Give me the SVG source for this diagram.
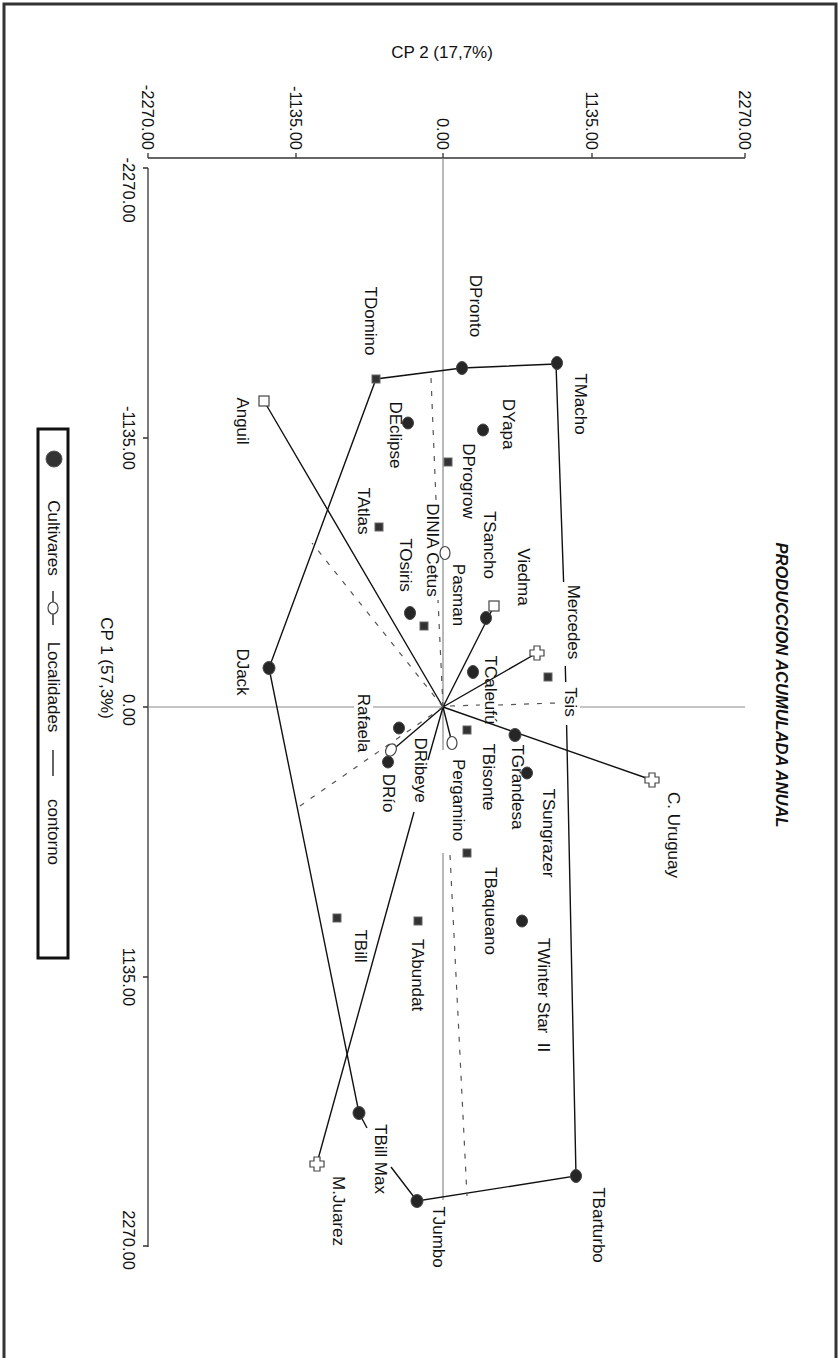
<svg xmlns="http://www.w3.org/2000/svg" width="840" height="1358" viewBox="0 0 840 1358">
<style>
text{font-family:"Liberation Sans",Arial,sans-serif;fill:#111;}
.lbl{font-size:17px;text-anchor:middle;dominant-baseline:central;}
.tick{font-size:16.5px;dominant-baseline:central;}
.title{font-size:16.5px;font-weight:bold;font-style:italic;text-anchor:middle;dominant-baseline:central;}
.ax{stroke:#333;stroke-width:1.3;fill:none;}
.zero{stroke:#8a8a8a;stroke-width:1.2;fill:none;}
.hull{stroke:#111;stroke-width:1.4;fill:none;}
.vec{stroke:#111;stroke-width:1.4;fill:none;}
.dash{stroke:#555;stroke-width:1.2;fill:none;stroke-dasharray:5,8;}
.cv{fill:#262626;stroke:#444;stroke-width:1;}
.sq{fill:#333;stroke:#666;stroke-width:1;}
.loc{fill:#fff;stroke:#444;stroke-width:1.2;}
</style>
<defs>
<path id="cross" d="M-3,-7 H3 V-3 H7 V3 H3 V7 H-3 V3 H-7 V-3 H-3 Z"/>
</defs>

<g id="frame">
<path d="M4,1358 V4 H836 V1358" fill="none" stroke="#333" stroke-width="3"/>
</g>

<g id="title">
<text class="title" transform="translate(782,685) rotate(90)">PRODUCCION ACUMULADA ANUAL</text>
</g>

<g id="axis-top">
<line class="ax" x1="148" y1="158" x2="745" y2="158"/>
<path class="ax" d="M148,158 V153 M296,158 V153 M443,158 V153 M592,158 V153 M745,158 V153"/>
<g class="tick" text-anchor="end">
<text transform="translate(148,150) rotate(90)">-2270.00</text>
<text transform="translate(296,150) rotate(90)">-1135.00</text>
<text transform="translate(443,150) rotate(90)">0.00</text>
<text transform="translate(592,150) rotate(90)">1135.00</text>
<text transform="translate(745,150) rotate(90)">2270.00</text>
</g>
<text class="lbl" x="442" y="52">CP 2 (17,7%)</text>
</g>

<g id="axis-left">
<line class="ax" x1="148" y1="168" x2="148" y2="1247"/>
<path class="ax" d="M148,168 H143 M148,438 H143 M148,707 H143 M148,977 H143 M148,1246 H143"/>
<g class="tick" text-anchor="middle">
<text transform="translate(129,190) rotate(90)">-2270.00</text>
<text transform="translate(129,438) rotate(90)">-1135.00</text>
<text transform="translate(129,710) rotate(90)">0.00</text>
<text transform="translate(129,977) rotate(90)">1135.00</text>
<text transform="translate(129,1240) rotate(90)">2270.00</text>
</g>
<text class="lbl" transform="translate(106,668) rotate(90)">CP 1 (57,3%)</text>
</g>

<g id="zero-lines">
<path class="zero" d="M443,158 V750 M443,853 V1200"/>
<path class="zero" d="M148,707 H354 M373,707 H443 M580,707 H745"/>
</g>

<g id="connectors">
<path class="hull" d="M556,364 L462,368 L376,379 L269,668 L359,1113 L367,1128 M391,1167 L417,1201 L576,1176 L566.6,725 M565.7,682 L565.3,666 M563.6,582 L556,364"/>
<path class="vec" d="M443,707 L264,401 M443,707 L492,610 M443,707 L537,653 M443,707 L652,780 M443,707 L452,743 M443,707 L396,747 M443,707 L428,760 M414,812 L317,1163"/>
<path class="dash" d="M443,707 L438,600 M436,500 L431,378 M443,707 L312,543 M443,707 L297,808 M450,855 L467,1196 M450,706 L480,705 M498,705 L556,703"/>
</g>

<g id="TMacho"><ellipse class="cv" cx="557" cy="363" rx="5.5" ry="6.5"/><text class="lbl" transform="translate(580,404) rotate(90)">TMacho</text></g>
<g id="DPronto"><ellipse class="cv" cx="462" cy="368" rx="5.5" ry="6.5"/><text class="lbl" transform="translate(475,306) rotate(90)">DPronto</text></g>
<g id="TDomino"><rect class="sq" x="372" y="375" width="8" height="8"/><text class="lbl" transform="translate(370,321) rotate(90)">TDomino</text></g>
<g id="Anguil"><rect class="loc" x="259" y="396" width="10" height="10"/><text class="lbl" transform="translate(242,421) rotate(90)">Anguil</text></g>
<g id="DEclipse"><ellipse class="cv" cx="408" cy="423" rx="5.5" ry="6"/><text class="lbl" transform="translate(395,435) rotate(90)">DEclipse</text></g>
<g id="DYapa"><ellipse class="cv" cx="483" cy="430" rx="5.5" ry="6"/><text class="lbl" transform="translate(508,424) rotate(90)">DYapa</text></g>
<g id="DProgrow"><rect class="sq" x="444" y="458" width="8" height="8"/><text class="lbl" transform="translate(468,481) rotate(90)">DProgrow</text></g>
<g id="TAtlas"><rect class="sq" x="375" y="523" width="8" height="8"/><text class="lbl" transform="translate(363,511) rotate(90)">TAtlas</text></g>
<g id="TSancho"><ellipse class="cv" cx="486" cy="618" rx="5.5" ry="6.5"/><text class="lbl" transform="translate(489,545) rotate(90)">TSancho</text></g>
<g id="Viedma"><rect class="loc" x="489" y="601" width="10" height="10"/><text class="lbl" transform="translate(523,577) rotate(90)">Viedma</text></g>
<g id="DINIA-Cetus"><rect class="sq" x="420" y="622" width="8" height="8"/><text class="lbl" transform="translate(432,550) rotate(90)">DINIA Cetus</text></g>
<g id="TOsiris"><ellipse class="cv" cx="410" cy="613" rx="5.5" ry="6.5"/><text class="lbl" transform="translate(405,565) rotate(90)">TOsiris</text></g>
<g id="Pasman"><ellipse class="loc" cx="445" cy="553" rx="5" ry="6.5"/><text class="lbl" transform="translate(458,595) rotate(90)">Pasman</text></g>
<g id="Mercedes"><use href="#cross" class="loc" x="537" y="653"/><text class="lbl" transform="translate(573,622) rotate(90)">Mercedes</text></g>
<g id="Tsis"><rect class="sq" x="544" y="673" width="8" height="8"/><text class="lbl" transform="translate(570,702) rotate(90)">Tsis</text></g>
<g id="TCaleufu"><ellipse class="cv" cx="473" cy="672" rx="5.5" ry="6.5"/><text class="lbl" transform="translate(490,690) rotate(90)">TCaleufú</text></g>
<g id="DJack"><ellipse class="cv" cx="269" cy="668" rx="6" ry="6.5"/><text class="lbl" transform="translate(242,672) rotate(90)">DJack</text></g>
<g id="Rafaela"><ellipse class="loc" cx="391" cy="750" rx="5" ry="6.5" transform="rotate(30 391 750)"/><text class="lbl" transform="translate(363,723) rotate(90)">Rafaela</text></g>
<g id="DRibeye"><ellipse class="cv" cx="399" cy="728" rx="5.5" ry="6"/><text class="lbl" transform="translate(420,770) rotate(90)">DRibeye</text></g>
<g id="DRio"><ellipse class="cv" cx="388" cy="762" rx="5.5" ry="6"/><text class="lbl" transform="translate(388,793) rotate(90)">DRío</text></g>
<g id="TBisonte"><rect class="sq" x="463" y="726" width="8" height="8"/><text class="lbl" transform="translate(488,777) rotate(90)">TBisonte</text></g>
<g id="Pergamino"><ellipse class="loc" cx="452" cy="743" rx="5" ry="6.5"/><text class="lbl" transform="translate(458,800) rotate(90)">Pergamino</text></g>
<g id="TGrandesa"><ellipse class="cv" cx="515" cy="735" rx="6" ry="6.5"/><text class="lbl" transform="translate(517,787) rotate(90)">TGrandesa</text></g>
<g id="TSungrazer"><ellipse class="cv" cx="527" cy="773" rx="5.5" ry="6"/><text class="lbl" transform="translate(548,833) rotate(90)">TSungrazer</text></g>
<g id="C-Uruguay"><use href="#cross" class="loc" x="652" y="780"/><text class="lbl" transform="translate(673,835) rotate(90)">C. Uruguay</text></g>
<g id="TBaqueano"><rect class="sq" x="463" y="849" width="8" height="8"/><text class="lbl" transform="translate(490,911) rotate(90)">TBaqueano</text></g>
<g id="TWinter-Star-II"><ellipse class="cv" cx="522" cy="921" rx="5.5" ry="6"/><text class="lbl" transform="translate(543,995) rotate(90)">TWinter Star&#160;&#160;II</text></g>
<g id="TBill"><rect class="sq" x="333" y="914" width="8" height="8"/><text class="lbl" transform="translate(360,946) rotate(90)">TBill</text></g>
<g id="TAbundat"><rect class="sq" x="414" y="917" width="8" height="8"/><text class="lbl" transform="translate(417,975) rotate(90)">TAbundat</text></g>
<g id="TBill-Max"><ellipse class="cv" cx="359" cy="1113" rx="6" ry="6.5"/><text class="lbl" transform="translate(380,1159) rotate(90)">TBill Max</text></g>
<g id="M-Juarez"><use href="#cross" class="loc" x="317" y="1164"/><text class="lbl" transform="translate(338,1211) rotate(90)">M.Juarez</text></g>
<g id="TJumbo"><ellipse class="cv" cx="417" cy="1201" rx="6" ry="6.5"/><text class="lbl" transform="translate(438,1237) rotate(90)">TJumbo</text></g>
<g id="TBarturbo"><ellipse class="cv" cx="576" cy="1176" rx="5.5" ry="6.5"/><text class="lbl" transform="translate(598,1225) rotate(90)">TBarturbo</text></g>

<g id="legend">
<rect x="38" y="429" width="30" height="529" fill="none" stroke="#111" stroke-width="3"/>
<circle cx="54" cy="459" r="8" fill="#333" stroke="#555"/>
<text class="lbl" transform="translate(53,538) rotate(90)">Cultivares</text>
<line x1="53" y1="591" x2="53" y2="625" stroke="#111" stroke-width="1.3"/>
<ellipse class="loc" cx="53" cy="608" rx="5" ry="6"/>
<text class="lbl" transform="translate(53,687) rotate(90)">Localidades</text>
<line x1="53" y1="750" x2="53" y2="776" stroke="#111" stroke-width="1.3"/>
<text class="lbl" transform="translate(53,832) rotate(90)">contorno</text>
</g>
</svg>
